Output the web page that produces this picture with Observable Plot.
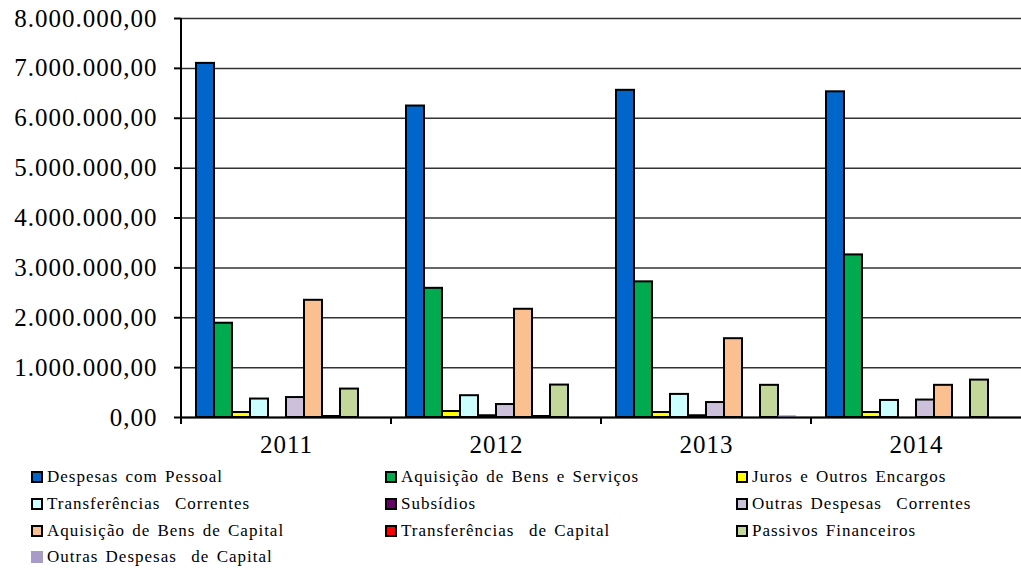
<!DOCTYPE html>
<html>
<head>
<meta charset="utf-8">
<script src="https://cdn.jsdelivr.net/npm/d3@7"></script>
<script src="https://cdn.jsdelivr.net/npm/@observablehq/plot@0.6"></script>
<style>
  body { margin: 0; background: #fff; }
  .legend { display: grid; grid-template-columns: 354px 351px auto; margin-left: 31px; }
  .item { display: flex; align-items: center; height: 26.7px; font-size: 17px; letter-spacing: 1px; word-spacing: 2px; color: #000; }
  .sw { width: 12px; height: 12px; box-sizing: border-box; border: 2px solid #000; margin-right: 4px; flex: none; }
</style>
</head>
<body>
<div id="chart"></div>
<div id="legend" class="legend"></div>
<script>
const years = ["2011", "2012", "2013", "2014"];
const categories = [
  "Despesas com Pessoal",
  "Aquisição de Bens e Serviços",
  "Juros e Outros Encargos",
  "Transferências  Correntes",
  "Subsídios",
  "Outras Despesas  Correntes",
  "Aquisição de Bens de Capital",
  "Transferências  de Capital",
  "Passivos Financeiros",
  "Outras Despesas  de Capital"
];
const despesasPessoal       = [7100000, 6245000, 6560000, 6530000];
const aquisicaoBensServicos = [1890000, 2590000, 2720000, 3260000];
const jurosEncargos         = [ 100000,  120000,  100000,  100000];
const transferenciasCorr    = [ 370000,  437000,  463000,  342000];
const subsidios             = [      0,   35000,   35000,       0];
const outrasDespCorrentes   = [ 400000,  260000,  300000,  350000];
const aquisicaoBensCapital  = [2350000, 2170000, 1580000,  645000];
const transferenciasCapital = [  20000,   20000,       0,       0];
const passivosFinanceiros   = [ 570000,  650000,  645000,  750000];
const outrasDespCapital     = [      0,       0,   35000,       0];
const yTicks = [0, 1000000, 2000000, 3000000, 4000000, 5000000, 6000000, 7000000, 8000000];

const palette = ["#0066CC", "#00AA4E", "#FFFF00", "#CCFFFF", "#660066", "#CCC0DA", "#FAC090", "#FF0000", "#C4D79B", "#A99BC8"];
const series = [despesasPessoal, aquisicaoBensServicos, jurosEncargos, transferenciasCorr, subsidios,
  outrasDespCorrentes, aquisicaoBensCapital, transferenciasCapital, passivosFinanceiros, outrasDespCapital];

const rows = [];
years.forEach((yr, i) => categories.forEach((c, j) => rows.push({year: yr, cat: c, value: series[j][i]})));

const locale = d3.formatLocale({decimal: ",", thousands: ".", grouping: [3], currency: ["", ""]});
const fmt = locale.format(",.2f");
const noBorder = categories[9];
const FONT = "Liberation Serif";

const plot = Plot.plot({
  width: 1021,
  height: 464,
  marginTop: 18,
  marginBottom: 47,
  marginLeft: 181,
  marginRight: 0,
  style: {fontFamily: FONT, fontSize: "25px", color: "#000", background: "#fff"},
  fx: {domain: years, padding: 0, label: null},
  x: {domain: categories, paddingInner: 0, paddingOuter: 0.7, axis: null},
  y: {domain: [0, 8000000], label: null},
  color: {domain: categories, range: palette},
  marks: [
    Plot.ruleY(yTicks, {stroke: "#333", strokeWidth: 1.5}),
    Plot.barY(rows, {fx: "year", x: "cat", y: "value", fill: "cat",
      stroke: d => d.cat === noBorder ? "none" : "#000", strokeWidth: 2}),
    Plot.ruleY([0], {stroke: "#000", strokeWidth: 2}),
    Plot.axisY({ticks: yTicks, tickFormat: fmt, tickSize: 7, tickPadding: 17, fontSize: 25, label: null, anchor: "left", strokeWidth: 2}),
    Plot.axisFx({anchor: "bottom", tickSize: 0, tickPadding: 18, fontSize: 25, label: null})
  ]
});
document.getElementById("chart").appendChild(plot);
const svgEl = plot.tagName.toLowerCase() === "svg" ? plot : plot.querySelector("svg");
svgEl.querySelectorAll("text").forEach(t => { t.setAttribute("font-family", FONT); t.style.fontFamily = FONT; t.style.letterSpacing = "1px"; });

// axis line and between-group ticks drawn from the plot's own scales
const fxS = plot.scale("fx"), yS = plot.scale("y");
const svg = d3.select(svgEl);
const g = svg.append("g").attr("stroke", "#000").attr("stroke-width", 2);
const y0 = yS.apply(0), yTop = yS.apply(yTicks[yTicks.length - 1]);
const xStart = fxS.apply(years[0]);
g.append("line").attr("x1", xStart).attr("x2", xStart).attr("y1", yTop).attr("y2", y0 + 7);
years.forEach(yr => {
  const x = fxS.apply(yr);
  g.append("line").attr("x1", x).attr("x2", x).attr("y1", y0).attr("y2", y0 + 7);
});

// legend
const leg = document.getElementById("legend");
categories.forEach((c, j) => {
  const it = document.createElement("div");
  it.className = "item";
  it.style.fontFamily = FONT;
  const sw = document.createElement("span");
  sw.className = "sw";
  sw.style.background = palette[j];
  if (c === noBorder) sw.style.border = "none";
  const t = document.createElement("span");
  t.textContent = c;
  t.style.whiteSpace = "pre";
  it.appendChild(sw); it.appendChild(t);
  leg.appendChild(it);
});
</script>
</body>
</html>
